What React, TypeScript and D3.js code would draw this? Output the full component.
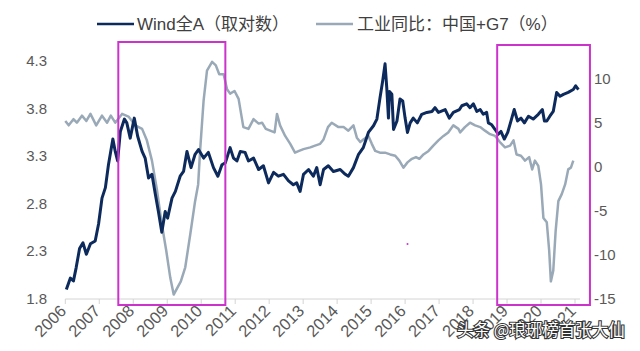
import React from 'react';
import * as d3 from 'd3';

// Wind全A (log): decimal year / value
const windYears = [
  2006.03, 2006.15, 2006.24, 2006.32, 2006.42, 2006.52, 2006.62, 2006.74, 2006.88, 2006.98,
  2007.08, 2007.18, 2007.27, 2007.4, 2007.47, 2007.54, 2007.62, 2007.74, 2007.81, 2007.91,
  2008.03, 2008.13, 2008.26, 2008.35, 2008.45, 2008.55, 2008.65, 2008.74, 2008.84, 2008.94,
  2009.01, 2009.14, 2009.24, 2009.38, 2009.48, 2009.58, 2009.7, 2009.82, 2009.92, 2010.07,
  2010.21, 2010.36, 2010.49, 2010.61, 2010.71, 2010.85, 2010.95, 2011.05, 2011.15, 2011.29,
  2011.39, 2011.54, 2011.69, 2011.83, 2011.98, 2012.13, 2012.27, 2012.42, 2012.57, 2012.71,
  2012.81, 2012.91, 2013.01, 2013.16, 2013.3, 2013.4, 2013.5, 2013.6, 2013.74, 2013.89,
  2014.09, 2014.24, 2014.33, 2014.48, 2014.63, 2014.77, 2014.92, 2015.07, 2015.17, 2015.26,
  2015.34, 2015.41, 2015.46, 2015.51, 2015.54, 2015.61, 2015.66, 2015.76, 2015.85, 2015.93,
  2016.0, 2016.07, 2016.15, 2016.24, 2016.36, 2016.49, 2016.64, 2016.79, 2016.88, 2016.98,
  2017.18, 2017.3, 2017.42, 2017.6, 2017.67, 2017.81, 2017.91, 2018.01, 2018.11, 2018.21,
  2018.3, 2018.4, 2018.45, 2018.55, 2018.65, 2018.74, 2018.82, 2018.92, 2019.02, 2019.14,
  2019.21, 2019.31, 2019.41, 2019.51, 2019.63, 2019.77, 2019.92, 2020.04, 2020.1, 2020.17,
  2020.26, 2020.36, 2020.46, 2020.56, 2020.66, 2020.8, 2020.95, 2021.02, 2021.1,
];
const windValues = [
  1.9, 2.02, 1.99, 2.13, 2.33, 2.39, 2.27, 2.38, 2.41, 2.59,
  2.86, 2.97, 3.21, 3.48, 3.35, 3.25, 3.56, 3.69, 3.65, 3.49,
  3.7, 3.51, 3.35, 3.28, 3.07, 3.11, 2.9, 2.72, 2.5, 2.72,
  2.65, 2.86, 2.93, 3.09, 3.14, 3.35, 3.18, 3.32, 3.37, 3.28,
  3.34, 3.18, 3.09, 3.21, 3.23, 3.39, 3.28, 3.25, 3.35, 3.34,
  3.25, 3.28, 3.16, 3.2, 3.02, 3.13, 3.09, 3.11, 3.04, 3.0,
  3.02, 2.93, 3.11, 3.16, 3.09, 3.18, 3.0, 3.16, 3.2, 3.14,
  3.16, 3.11, 3.09, 3.18, 3.32, 3.39, 3.55, 3.62, 3.69, 3.91,
  4.09, 4.27, 4.02, 3.7, 3.98, 3.95, 3.58, 3.67, 3.9, 3.88,
  3.7, 3.55, 3.65, 3.7, 3.65, 3.74, 3.76, 3.77, 3.81, 3.76,
  3.79, 3.7, 3.76, 3.79, 3.83, 3.85, 3.81, 3.85, 3.77, 3.79,
  3.74, 3.76, 3.65, 3.63, 3.58, 3.53, 3.56, 3.48, 3.55, 3.7,
  3.79, 3.67, 3.7, 3.65, 3.72, 3.69, 3.74, 3.79, 3.67, 3.67,
  3.72, 3.77, 3.97, 3.93, 3.95, 3.97, 4.0, 4.04, 4.0,
];

// 工业同比：中国+G7 (%)
const indYears = [
  2006.0, 2006.1, 2006.24, 2006.34, 2006.49, 2006.62, 2006.74, 2006.91, 2007.08, 2007.23,
  2007.34, 2007.47, 2007.67, 2007.86, 2008.06, 2008.26, 2008.4, 2008.55, 2008.7, 2008.84,
  2008.97, 2009.09, 2009.19, 2009.3, 2009.4, 2009.53, 2009.68, 2009.82, 2009.91, 2009.97,
  2010.07, 2010.17, 2010.32, 2010.43, 2010.53, 2010.66, 2010.76, 2010.85, 2010.98, 2011.1,
  2011.24, 2011.39, 2011.54, 2011.69, 2011.79, 2011.9, 2012.03, 2012.16, 2012.23, 2012.32,
  2012.47, 2012.62, 2012.76, 2012.88, 2013.01, 2013.21, 2013.35, 2013.5, 2013.6, 2013.73,
  2013.84, 2014.04, 2014.19, 2014.33, 2014.48, 2014.58, 2014.68, 2014.77, 2014.92, 2015.02,
  2015.12, 2015.26, 2015.41, 2015.56, 2015.71, 2015.83, 2015.95, 2016.07, 2016.2, 2016.32,
  2016.42, 2016.54, 2016.69, 2016.83, 2016.98, 2017.13, 2017.27, 2017.42, 2017.57, 2017.62,
  2017.76, 2017.91, 2018.06, 2018.21, 2018.35, 2018.5, 2018.65, 2018.79, 2018.94, 2019.09,
  2019.19, 2019.28, 2019.41, 2019.53, 2019.65, 2019.74, 2019.82, 2019.92, 2020.0, 2020.07,
  2020.17, 2020.24, 2020.29, 2020.36, 2020.43, 2020.51, 2020.61, 2020.71, 2020.8, 2020.88,
  2020.95,
];
const indValues = [
  5.2, 4.7, 5.4, 5.0, 5.8, 5.2, 6.0, 4.7, 5.8, 5.0,
  5.8, 5.0, 6.0, 5.7, 4.7, 4.3, 3.0, 0.7, -2.7, -6.5,
  -9.5, -12.6, -14.5, -13.7, -13.0, -11.4, -7.6, -3.9, -2.0, 2.0,
  7.5, 10.9, 11.9, 11.5, 10.5, 10.5, 8.8, 8.3, 8.6, 7.7,
  4.5, 4.3, 5.4, 4.9, 5.0, 4.3, 4.1, 3.9, 6.0, 4.7,
  3.5, 2.6, 1.6, 1.8, 2.0, 2.2, 2.4, 2.6, 3.1, 4.5,
  5.0, 4.5, 4.5, 4.1, 4.7, 3.3, 2.8, 3.1, 3.5, 2.6,
  1.8, 1.6, 1.6, 1.4, 1.25, 0.7, -0.1, 0.5, 0.9, 1.1,
  0.9, 1.4, 1.8, 2.4, 3.0, 3.5, 3.9, 4.7, 4.3, 3.9,
  4.5, 5.0, 4.7, 4.5, 4.1, 3.7, 3.5, 2.8, 2.2, 2.4,
  3.0, 1.4, 1.25, 0.7, 1.1, -0.3, 0.7, 0.1, -2.0, -5.8,
  -6.3, -9.5, -13.0, -11.8, -7.3, -3.9, -3.1, -2.0, -0.3, -0.1,
  0.7,
];

const yearTicks = d3.range(2006, 2022);
const leftTicks = [1.8, 2.3, 2.8, 3.3, 3.8, 4.3];
const rightTicks = [-15, -10, -5, 0, 5, 10];
// highlighted periods (magenta frames)
const boxStarts = [2007.56, 2018.71];
const boxEnds = [2010.71, 2021.44];

const FONT = "'Liberation Sans', Arial, 'Noto Sans CJK SC', sans-serif";
const DARK = '#0d2a5c';
const GREY = '#9aa9b7';
const MAGENTA = '#cc33cc';

export default function App() {
  const x = d3.scaleLinear().domain([2006, 2021]).range([65.3, 575]);
  const yL = d3.scaleLinear().domain([1.8, 4.3]).range([299, 61]);
  const yR = d3.scaleLinear().domain([-15, 12]).range([299, 61]);

  const windLine = d3.line<number>()
    .x((_, i) => x(windYears[i]))
    .y((d) => yL(d));
  const indLine = d3.line<number>()
    .x((_, i) => x(indYears[i]))
    .y((d) => yR(d));

  return (
    <svg width={640} height={351}
      style={{ position: 'absolute', left: 0, top: 0, background: '#fff', fontFamily: FONT }}>
      {/* legend */}
      <g>
        <line x1={97} x2={134} y1={24} y2={24} stroke={DARK} strokeWidth={2.5} />
        <text x={137} y={30} fontSize={17} fill="#404040">Wind全A（取对数）</text>
        <line x1={316} x2={353} y1={24} y2={24} stroke={GREY} strokeWidth={2.5} />
        <text x={357} y={30} fontSize={17} fill="#404040">工业同比：中国+G7（%）</text>
      </g>

      {/* x axis */}
      <line x1={x(2006)} x2={580} y1={299} y2={299} stroke="#d4d4d4" strokeWidth={1} />
      {yearTicks.map((yr) => (
        <g key={yr}>
          <line x1={x(yr)} x2={x(yr)} y1={299} y2={304} stroke="#d4d4d4" />
          <text transform={`translate(${x(yr) + 2},${312}) rotate(-45)`}
            textAnchor="end" fontSize={16.5} fill="#595959">{yr}</text>
        </g>
      ))}

      {/* left axis labels */}
      {leftTicks.map((v) => (
        <text key={v} x={47} y={yL(v) + 5} textAnchor="end" fontSize={15} fill="#595959">
          {d3.format('.1f')(v)}
        </text>
      ))}
      {/* right axis labels */}
      {rightTicks.map((v) => (
        <text key={v} x={594} y={yR(v) + 5} fontSize={15} fill="#595959">{v}</text>
      ))}

      <path d={indLine(indValues) || ''} fill="none" stroke={GREY} strokeWidth={2.5}
        strokeLinejoin="round" />
      <path d={windLine(windValues) || ''} fill="none" stroke={DARK} strokeWidth={3}
        strokeLinejoin="round" />

      {/* highlight frames */}
      {boxStarts.map((s, i) => (
        <rect key={s} x={x(s)} y={i === 0 ? 42 : 45} width={x(boxEnds[i]) - x(s)}
          height={i === 0 ? 263 : 260} fill="none" stroke={MAGENTA} strokeWidth={2} />
      ))}
      <circle cx={407.5} cy={244} r={1} fill={MAGENTA} />

      {/* watermark */}
      <text x={457} y={336} fontSize={16.5} fill="#ffffff" stroke="#333" strokeWidth={2.2}
        paintOrder="stroke" fontFamily="'Noto Sans CJK SC', sans-serif">头条 @琅琊榜首张大仙</text>
    </svg>
  );
}
